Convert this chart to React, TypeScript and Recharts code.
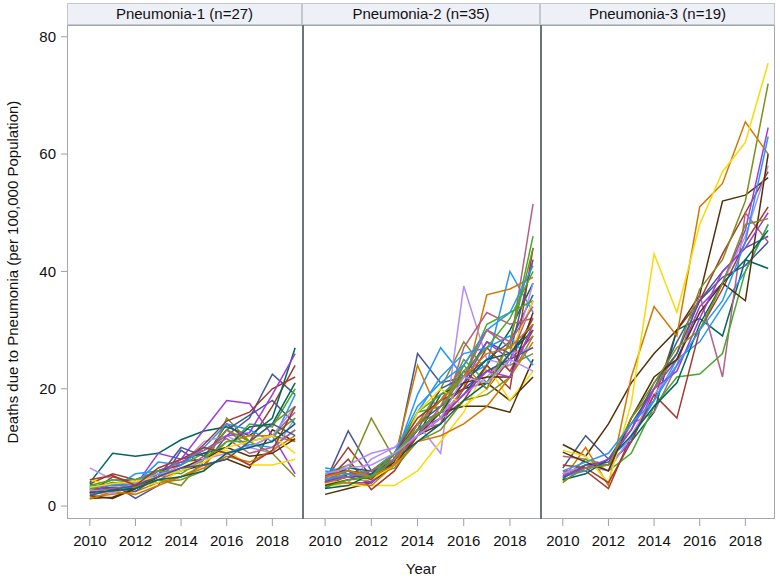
import React from "react";
import { LineChart, Line, XAxis, YAxis } from "recharts";

const YEARS = [2010, 2011, 2012, 2013, 2014, 2015, 2016, 2017, 2018, 2019];
const X_TICKS = [2010, 2012, 2014, 2016, 2018];
const Y_TICKS = [0, 20, 40, 60, 80];
const PANEL_TITLES = ["Pneumonia-1 (n=27)", "Pneumonia-2 (n=35)", "Pneumonia-3 (n=19)"];
const PALETTE = ["#445694", "#A23A2E", "#01665E", "#543005", "#9D3CDB", "#7F8E1F", "#2597FA", "#B26084", "#D17800", "#47A82A", "#B38EF3", "#F9DA04"];

const P1_SERIES: number[][] = [
  [3.2, 3.8, 1.3, 3.5, 9.5, 7, 12, 15, 22.5, 19],
  [3.8, 5.5, 4.5, 6, 7.5, 8, 14, 11, 17, 24],
  [4, 9, 8.5, 9, 11.3, 12.8, 13.5, 12, 15, 27],
  [1.3, 1.5, 3, 5, 6, 7, 8, 6.5, 13, 11],
  [3, 4, 3.5, 9, 8, 13, 18, 17.5, 12, 5.5],
  [2.5, 3, 3.5, 4, 4.5, 6, 15, 11, 9, 5],
  [3.5, 3, 5.5, 6, 7, 10, 14, 13, 11, 19],
  [2, 2.5, 3, 4.5, 6, 8.5, 13, 10, 12, 16],
  [1.5, 2, 2.5, 4, 5, 7, 11, 12, 12, 11],
  [3, 4.5, 4.5, 6, 7, 9, 10, 14, 13.5, 20],
  [6.5, 4.5, 4, 5, 7, 11, 12, 10, 9, 15],
  [4.5, 3.5, 3.2, 4, 6, 8, 9.5, 7, 7, 8],
  [2.8, 3.2, 2.5, 5, 10, 8.5, 13, 15.5, 18, 14],
  [2.2, 5, 4, 6, 7, 10.5, 14.5, 16, 20, 22],
  [3.8, 2.8, 3, 5.5, 8, 9, 10, 13.5, 14, 21],
  [1.8, 1.3, 3, 5, 6.5, 8, 10, 8.5, 9, 11.5],
  [2.2, 3.8, 3, 6, 7.5, 9.5, 12, 12.5, 19, 26],
  [2.8, 4, 3.2, 4.5, 3.5, 8, 13, 11, 14, 17],
  [3.3, 3.5, 3.8, 7.5, 7, 10, 9, 10.5, 10, 13],
  [2.5, 3, 3.5, 5, 8, 9.5, 11.5, 9, 10, 13],
  [1.2, 2.5, 2, 3.5, 5, 6.5, 8.5, 7.5, 9.5, 12],
  [3.5, 4.5, 4, 6, 5.5, 8, 11, 11, 12, 15],
  [2.8, 2.2, 4, 5.5, 6, 8, 9, 10, 12, 17],
  [3.2, 3.8, 4.2, 5, 6, 7.5, 10, 11, 12, 9],
  [1.8, 2.8, 3.5, 5, 6.5, 7, 8, 11, 14, 12],
  [4.5, 5.2, 3.5, 6.5, 8, 10, 9, 7, 9.5, 17],
  [2.3, 2.6, 3, 4.5, 5, 6, 9, 10, 11, 14],
];

const P2_SERIES: number[][] = [
  [4, 12.8, 6, 7, 26, 21, 22, 25, 28, 36],
  [4.5, 10, 5, 7, 14, 18, 23, 20, 25, 32],
  [5, 6, 5.5, 9, 13, 16, 19, 24, 30, 38],
  [2, 3, 4, 7, 12, 14, 20, 21, 18, 22],
  [3.5, 4, 4, 8, 12, 15, 20, 23, 25, 29],
  [5, 6, 15, 8, 14, 20, 28, 23, 24, 26],
  [6.5, 6, 4, 8, 19, 27, 22, 24, 40, 33],
  [4, 5.5, 6, 9, 14, 18, 24, 30, 27, 51.5],
  [4.5, 6, 5, 8, 24, 15, 20, 36, 37, 39],
  [5.5, 7, 5, 9, 16, 17, 25, 21, 28, 46],
  [3.5, 4, 8, 10, 14, 9, 37.5, 25, 24, 38],
  [3.5, 3.5, 3.5, 3.5, 6, 11, 16, 24, 18, 23],
  [5.5, 6, 4, 8, 13, 20, 22, 28, 26, 42],
  [4.2, 8, 2.8, 6, 12, 15, 18, 24, 20, 44],
  [4.8, 6.5, 6, 8, 12, 19, 21, 25, 26, 30],
  [3, 5.5, 4.5, 7.5, 13, 16, 17, 17, 16, 25],
  [4.5, 5, 4, 9, 14, 16, 21, 28, 25, 35],
  [5, 6, 5, 6.5, 11, 13, 18, 19, 22, 29],
  [6, 5.5, 4.5, 8, 16, 22, 26, 27, 29, 24],
  [5, 5, 5.5, 8, 13, 14, 27, 33, 31, 32],
  [3.8, 4, 3.5, 7, 11, 12, 14, 17, 22, 28],
  [4, 5, 6, 9, 16, 19, 22, 31, 33, 35],
  [4.5, 7, 9, 10, 12, 16, 19, 22, 26, 27],
  [3.8, 4.5, 4.5, 7, 16, 20, 17, 20, 26, 35],
  [4.2, 5, 5, 9, 14, 17, 20, 23, 25, 27],
  [5.2, 6, 4.5, 9, 15, 18, 20, 27, 23, 30],
  [3, 3.5, 5.5, 8, 11, 14, 18, 21, 26, 31],
  [3.5, 4.5, 5, 8, 12, 16, 21, 22, 22, 33],
  [4, 5, 6, 8, 13, 15, 19, 23, 22, 31],
  [4.5, 5.5, 5, 8, 14, 16, 24, 20, 28, 44],
  [4.5, 5.5, 5, 9, 17, 21, 24, 30, 33, 41],
  [4, 5, 6, 8, 12, 17, 22, 30, 28, 34],
  [5, 6, 5, 7, 14, 18, 22, 26, 27, 31],
  [3.2, 4.5, 5, 9, 13, 16, 23, 27, 32, 40],
  [5.5, 6.5, 7, 9, 12, 15, 22, 21, 25, 23],
];

const P3_SERIES: number[][] = [
  [6.5, 12, 8, 14, 20, 28, 35, 40, 44, 46],
  [6, 6, 3, 12, 18, 30, 35, 43, 50, 57],
  [5.5, 7, 7, 11, 16, 30, 32, 29, 42, 40.5],
  [10.5, 8.5, 14, 21, 26, 30, 36, 52, 53, 56],
  [5, 6.5, 7, 11, 20, 25, 34, 38, 47, 64.5],
  [4, 7, 6, 15, 20, 26, 37, 42, 52, 72],
  [5, 6, 8, 11.5, 18, 25, 28, 34, 40, 48],
  [8.5, 8, 7, 14, 16, 24, 36, 22, 50, 45],
  [4.5, 10, 3.5, 22, 34, 29, 51, 55, 65.5, 60],
  [4.5, 8, 6, 9, 17, 22, 22.5, 26, 40, 48],
  [5.5, 7, 6, 12, 19, 24, 30, 38, 46, 58],
  [9.5, 8.5, 4, 17.5, 43, 33, 48, 57, 62, 75.5],
  [4.8, 7, 7.5, 13, 21, 26, 35, 39, 41, 45],
  [7, 6.5, 4, 11, 19, 15, 30, 37, 45, 51],
  [4.5, 5.5, 8, 12, 17, 21, 31, 38, 42, 47],
  [9.2, 7.5, 6, 15, 22, 25, 33, 38, 35, 60],
  [5.2, 6.5, 8, 13, 20, 23, 32, 40, 44, 50],
  [4.2, 6.5, 7, 15, 21, 27, 30, 38, 48, 49],
  [6, 7.5, 9, 14, 18, 24, 30, 35, 45, 63],
];

const FONT = "'Liberation Sans', Arial, sans-serif";
const TOP = 25;
const BOTTOM = 519;
const H = 578;

function buildRows(series: number[][]) {
  return YEARS.map((y, i) => {
    const r: any = { year: y };
    series.forEach((s, j) => {
      r["s" + j] = s[i];
    });
    return r;
  });
}

function Panel({ left, width, series, showY }: { left: number; width: number; series: number[][]; showY: boolean }) {
  const rows = buildRows(series);
  return (
    <div style={{ position: "absolute", left, top: 0 }}>
      <LineChart width={width} height={H} data={rows} margin={{ top: TOP, right: 0, bottom: 0, left: 0 }}>
        <XAxis
          dataKey="year"
          type="number"
          domain={[2009, 2019.3]}
          ticks={X_TICKS}
          allowDataOverflow
          height={H - BOTTOM}
          axisLine={false}
          tickLine={{ stroke: "#9aa0a6" }}
          tickSize={7}
          tick={{ fill: "#111", fontSize: 15, fontFamily: FONT, dy: 7 }}
        />
        <YAxis
          type="number"
          domain={[-2.2, 82]}
          ticks={Y_TICKS}
          allowDataOverflow
          hide={!showY}
          width={showY ? 67 : 0}
          axisLine={false}
          tickLine={{ stroke: "#9aa0a6" }}
          tickSize={6}
          tick={{ fill: "#111", fontSize: 15, fontFamily: FONT, dx: -3 }}
        />
        {series.map((_, j) => (
          <Line
            key={j}
            dataKey={"s" + j}
            stroke={PALETTE[j % PALETTE.length]}
            strokeWidth={1.5}
            dot={false}
            activeDot={false}
            isAnimationActive={false}
          />
        ))}
      </LineChart>
    </div>
  );
}

export default function App() {
  const headers = [
    { left: 67, width: 235 },
    { left: 302, width: 238 },
    { left: 540, width: 235 },
  ];
  return (
    <div style={{ position: "absolute", left: 0, top: 0, width: 780, height: 578, background: "#fff", fontFamily: FONT }}>
      <Panel left={0} width={302} series={P1_SERIES} showY={true} />
      <Panel left={302} width={238} series={P2_SERIES} showY={false} />
      <Panel left={540} width={235} series={P3_SERIES} showY={false} />
      <div style={{ position: "absolute", left: 67, top: TOP, width: 708, height: BOTTOM - TOP, border: "1px solid #a3a8ae", boxSizing: "border-box", pointerEvents: "none" }} />
      <div style={{ position: "absolute", left: 302, top: TOP, width: 2, height: BOTTOM - TOP, background: "#6e747b", pointerEvents: "none" }} />
      <div style={{ position: "absolute", left: 540, top: TOP, width: 2, height: BOTTOM - TOP, background: "#6e747b", pointerEvents: "none" }} />
      {headers.map((h, i) => (
        <div
          key={i}
          style={{
            position: "absolute",
            left: h.left,
            top: 3,
            width: h.width,
            height: 22,
            boxSizing: "border-box",
            border: "1px solid #c3c7ce",
            background: "#eef0f8",
            fontSize: 15,
            lineHeight: "20px",
            textAlign: "center",
            color: "#111",
          }}
        >
          {PANEL_TITLES[i]}
        </div>
      ))}
      <div
        style={{
          position: "absolute",
          left: 12,
          top: 272,
          transform: "translate(-50%, -50%) rotate(-90deg)",
          whiteSpace: "nowrap",
          fontSize: 15,
          color: "#111",
        }}
      >
        Deaths due to Pneumonia (per 100,000 Population)
      </div>
      <div style={{ position: "absolute", left: 421, top: 568, transform: "translate(-50%, -50%)", fontSize: 15, color: "#111" }}>Year</div>
    </div>
  );
}
